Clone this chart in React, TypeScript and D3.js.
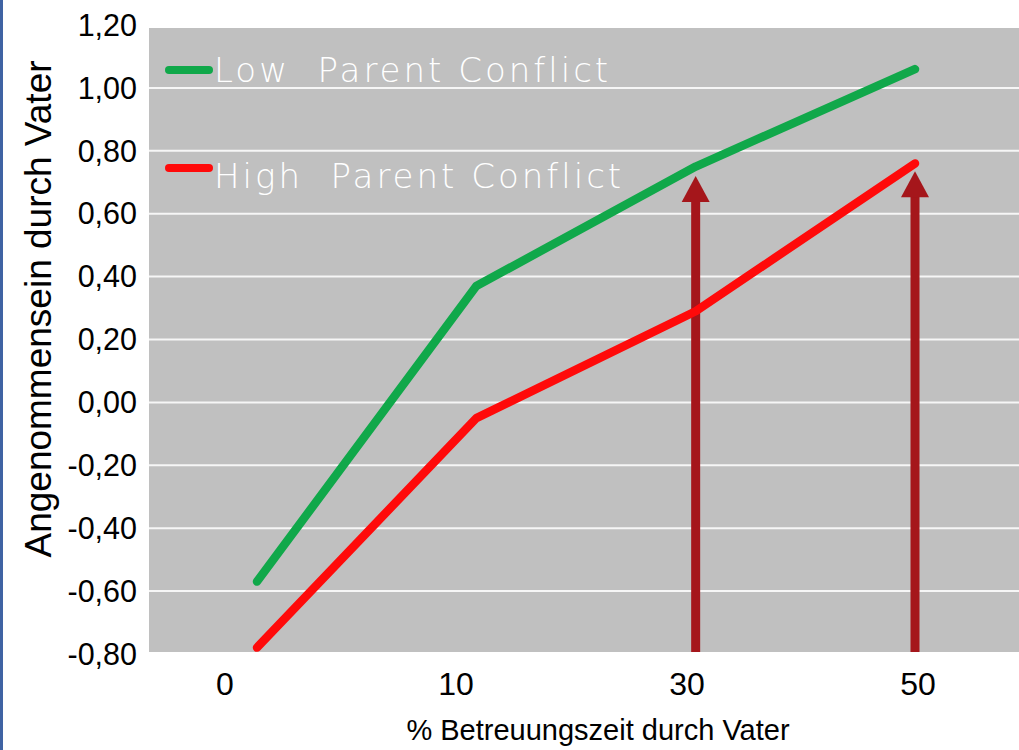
import React from "react";
import * as d3 from "d3";

const categories = ["0", "10", "30", "50"];
const lowConflict = [-0.57, 0.37, 0.75, 1.06];
const highConflict = [-0.78, -0.05, 0.29, 0.76];
const yTicks = [1.2, 1.0, 0.8, 0.6, 0.4, 0.2, 0.0, -0.2, -0.4, -0.6, -0.8];
const gridValues = [1.0, 0.8, 0.6, 0.4, 0.2, 0.0, -0.2, -0.4, -0.6];
const arrowCategories = ["30", "50"];
const arrowTips = [0.72, 0.735];
const seriesNames = ["Low  Parent Conflict", "High  Parent Conflict"];
const xTitle = "% Betreuungszeit durch Vater";
const yTitle = "Angenommensein durch Vater";

const W = 1019;
const H = 750;
const plot = { left: 149, right: 1019, top: 28, bottom: 652 };

const fmt = (v: number) => d3.format(".2f")(v).replace(".", ",").replace("−", "-");

export default function App() {
  const y = d3.scaleLinear().domain([-0.8, 1.2]).range([653.9, 25.1]);
  const xData = d3.scalePoint<string>().domain(categories).range([257, 915]);
  const xLabel = d3.scalePoint<string>().domain(categories).range([225, 918]);

  const line = d3
    .line<number>()
    .x((_, i) => xData(categories[i]) as number)
    .y((d) => y(d));

  const font = "'Liberation Sans', Arial, sans-serif";
  const legendFont = "'DejaVu Sans', sans-serif";
  const arrowColor = "#a5161b";

  const series = [
    { values: lowConflict, color: "#10a84a", name: seriesNames[0] },
    { values: highConflict, color: "#ff0a0a", name: seriesNames[1] },
  ];
  const legendY = [70, 168];

  return (
    <div style={{ position: "absolute", left: 0, top: 0 }}>
      <svg width={W} height={H} style={{ display: "block" }}>
        <rect x={0} y={0} width={W} height={H} fill="#ffffff" />
        <rect x={0} y={0} width={3} height={H} fill="#3f63a3" />
        <rect
          x={plot.left}
          y={plot.top}
          width={plot.right - plot.left}
          height={plot.bottom - plot.top}
          fill="#c0c0c0"
        />
        {gridValues.map((v) => (
          <line
            key={v}
            x1={plot.left}
            x2={plot.right}
            y1={y(v)}
            y2={y(v)}
            stroke="#f6f6f6"
            strokeWidth={2}
          />
        ))}
        {yTicks.map((v) => (
          <text
            key={v}
            x={137}
            y={y(v)}
            dy="0.35em"
            textAnchor="end"
            fontFamily={font}
            fontSize={30.5}
            fill="#000"
          >
            {fmt(v)}
          </text>
        ))}
        {categories.map((c) => (
          <text
            key={c}
            x={xLabel(c)}
            y={695}
            textAnchor="middle"
            fontFamily={font}
            fontSize={32}
            fill="#000"
          >
            {c}
          </text>
        ))}
        <text
          x={598}
          y={740}
          textAnchor="middle"
          fontFamily={font}
          fontSize={29}
          fill="#000"
        >
          {xTitle}
        </text>
        <text
          transform={`translate(51, 309) rotate(-90)`}
          textAnchor="middle"
          fontFamily={font}
          fontSize={37}
          fill="#000"
        >
          {yTitle}
        </text>

        {arrowCategories.map((c, i) => {
          const cx = xData(c) as number;
          const tip = y(arrowTips[i]);
          const headH = 26;
          const headW = 28;
          return (
            <g key={c}>
              <rect x={cx - 4.5} y={tip + headH - 2} width={9} height={plot.bottom - tip - headH + 2} fill={arrowColor} />
              <path
                d={`M${cx},${tip} L${cx + headW / 2},${tip + headH} L${cx - headW / 2},${tip + headH} Z`}
                fill={arrowColor}
              />
            </g>
          );
        })}

        <g clipPath="url(#plotClip)">
          {series.map((s) => (
            <path
              key={s.name}
              d={line(s.values) || ""}
              fill="none"
              stroke={s.color}
              strokeWidth={8.5}
              strokeLinecap="round"
              strokeLinejoin="round"
            />
          ))}
        </g>
        <defs>
          <clipPath id="plotClip">
            <rect x={plot.left} y={plot.top} width={plot.right - plot.left} height={plot.bottom - plot.top} />
          </clipPath>
        </defs>

        {series.map((s, i) => (
          <g key={s.name}>
            <line
              x1={169}
              x2={209}
              y1={legendY[i]}
              y2={legendY[i]}
              stroke={s.color}
              strokeWidth={8}
              strokeLinecap="round"
            />
            <text
              x={214}
              y={legendY[i] + 12 + i * 8}
              fontFamily={legendFont}
              fontWeight={300}
              fontSize={34}
              letterSpacing={3}
              fill="#ffffff"
              style={{ whiteSpace: "pre" }}
            >
              {s.name}
            </text>
          </g>
        ))}
      </svg>
    </div>
  );
}
